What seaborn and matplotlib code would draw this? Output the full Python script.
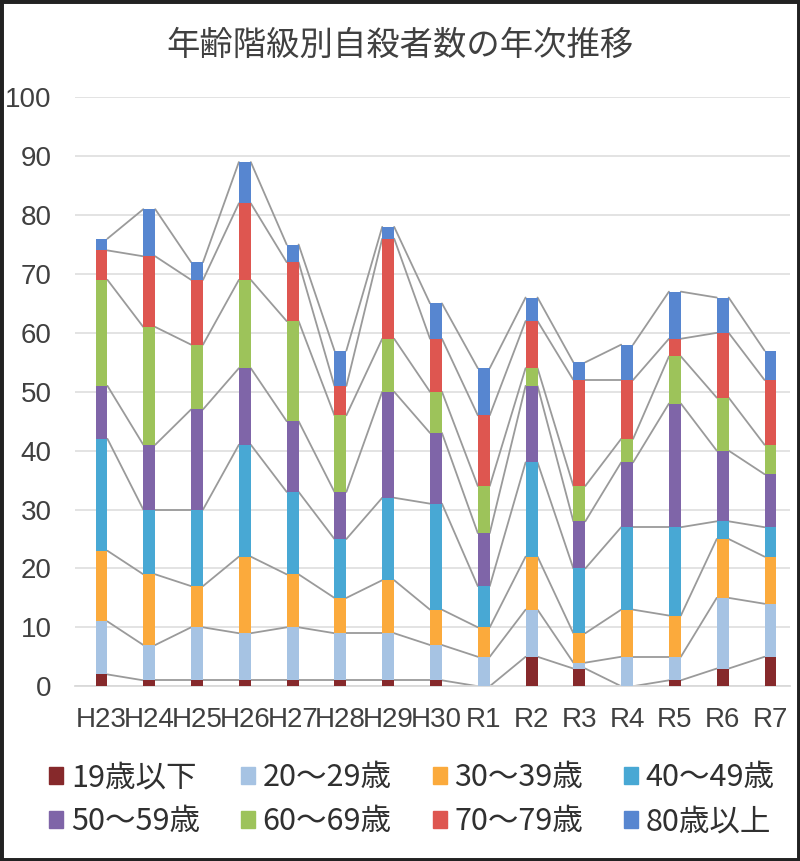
import numpy as np
import pandas as pd
import seaborn as sns
import matplotlib.pyplot as plt
from matplotlib import font_manager
from matplotlib.patches import Rectangle

# data
years = ['H23', 'H24', 'H25', 'H26', 'H27', 'H28', 'H29', 'H30',
         'R1', 'R2', 'R3', 'R4', 'R5', 'R6', 'R7']
groups = ['19歳以下', '20～29歳', '30～39歳', '40～49歳',
          '50～59歳', '60～69歳', '70～79歳', '80歳以上']
age_19 = [2, 1, 1, 1, 1, 1, 1, 1, 0, 5, 3, 0, 1, 3, 5]
age_20 = [9, 6, 9, 8, 9, 8, 8, 6, 5, 8, 1, 5, 4, 12, 9]
age_30 = [12, 12, 7, 13, 9, 6, 9, 6, 5, 9, 5, 8, 7, 10, 8]
age_40 = [19, 11, 13, 19, 14, 10, 14, 18, 7, 16, 11, 14, 15, 3, 5]
age_50 = [9, 11, 17, 13, 12, 8, 18, 12, 9, 13, 8, 11, 21, 12, 9]
age_60 = [18, 20, 11, 15, 17, 13, 9, 7, 8, 3, 6, 4, 8, 9, 5]
age_70 = [5, 12, 11, 13, 10, 5, 17, 9, 12, 8, 18, 10, 3, 11, 11]
age_80 = [2, 8, 3, 7, 3, 6, 2, 6, 8, 4, 3, 6, 8, 6, 5]
colors = ['#86292B', '#A6C3E3', '#FBAA3C', '#48A8D4',
          '#7F65A8', '#9DC35A', '#DE5650', '#5786D0']

series = [age_19, age_20, age_30, age_40, age_50, age_60, age_70, age_80]
df = pd.DataFrame(dict(zip(groups, series)), index=years)

sns.set_theme(style='white')
plt.rcParams['font.family'] = ['Noto Sans CJK JP', 'DejaVu Sans']

installed = {f.name for f in font_manager.fontManager.ttflist}
tick_font = 'Liberation Sans Narrow' if 'Liberation Sans Narrow' in installed else 'Liberation Sans'

fig = plt.figure(figsize=(8, 8.61), dpi=100)
ax = fig.add_axes([0.094, 0.203, 0.893, 0.684])

bw = 0.25
bottom = np.zeros(len(years))
tops = []
for g, c in zip(groups, colors):
    sns.barplot(x=years, y=df[g].values + bottom, color=c, width=bw,
                ax=ax, saturation=1, linewidth=0)
    bottom = bottom + df[g].values
    tops.append(bottom.copy())

# each stack is drawn from 0, so put the shorter (earlier) ones in front
for i, cont in enumerate(ax.containers):
    for p in cont:
        p.set_zorder(3 + (len(ax.containers) - i) * 0.01)

# series lines between bars
for t in tops:
    for i in range(len(years) - 1):
        ax.plot([i + bw / 2, i + 1 - bw / 2], [t[i], t[i + 1]],
                color='#9A9A9A', lw=1.3, zorder=2)

ax.set_ylim(0, 100)
ax.set_xlim(-0.55, len(years) - 0.6)
ax.set_yticks(range(0, 101, 10))
ax.yaxis.grid(True, color='#DEDEDE', lw=1.2)
ax.set_axisbelow(True)
sns.despine(ax=ax, left=True, right=True, top=True, bottom=False)
ax.spines['bottom'].set_color('#D8D8D8')
ax.tick_params(axis='both', length=0)
ax.tick_params(axis='y', pad=17)
ax.tick_params(axis='x', pad=15)
for lab in ax.get_xticklabels() + ax.get_yticklabels():
    lab.set_family(tick_font)
    lab.set_fontsize(20)
    lab.set_color('#404040')
ax.set_xlabel('')
ax.set_ylabel('')

fig.text(0.5, 0.947, '年齢階級別自殺者数の年次推移', ha='center', va='center',
         fontsize=24, color='#404040')

# legend filled row by row (matplotlib fills by column)
order = [0, 4, 1, 5, 2, 6, 3, 7]
handles = [Rectangle((0, 0), 1, 1, color=colors[k]) for k in order]
labels = [groups[k] for k in order]
fig.legend(handles, labels, loc='center', bbox_to_anchor=(0.515, 0.071),
           ncol=4, frameon=False, fontsize=22, handlelength=0.45,
           handleheight=0.45, handletextpad=0.25, columnspacing=1.35,
           labelspacing=0.42, labelcolor='#303030')

fig.patches.append(Rectangle((0, 0), 1, 1, transform=fig.transFigure,
                             fill=False, edgecolor='#222222', lw=5))

fig.savefig('out.png', dpi=100)
